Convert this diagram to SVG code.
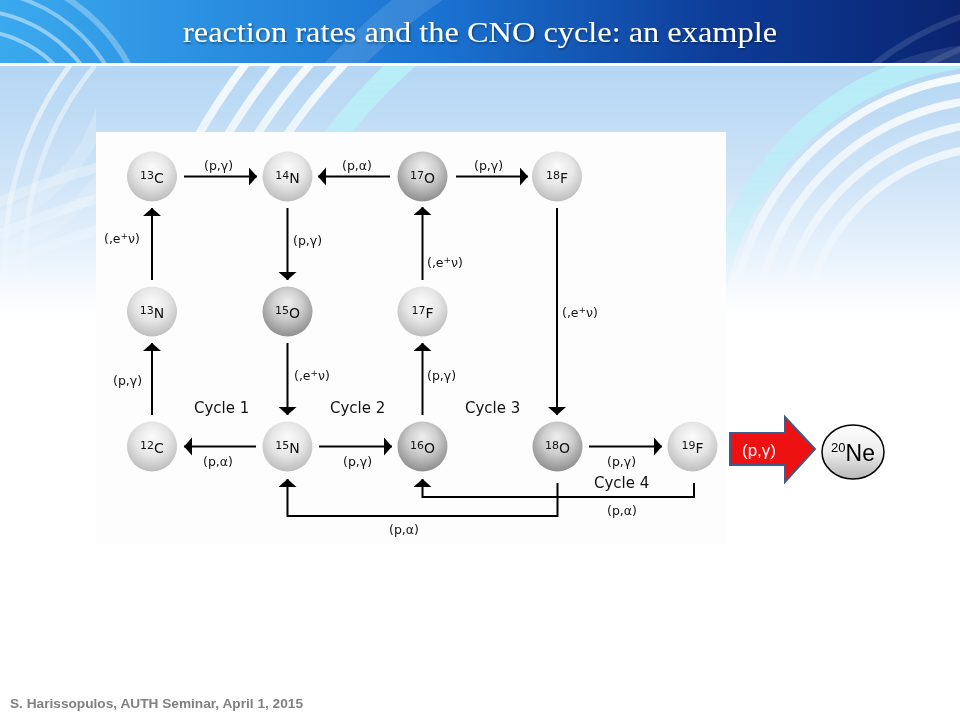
<svg xmlns="http://www.w3.org/2000/svg" width="960" height="720" viewBox="0 0 960 720">
<defs>
  <linearGradient id="hdr" x1="0" y1="0" x2="1" y2="0">
    <stop offset="0" stop-color="#3aa9ee"/>
    <stop offset="0.45" stop-color="#1b74d2"/>
    <stop offset="0.75" stop-color="#0d3c98"/>
    <stop offset="1" stop-color="#0a2470"/>
  </linearGradient>
  <linearGradient id="bodybg" gradientUnits="userSpaceOnUse" x1="0" y1="66" x2="0" y2="320">
    <stop offset="0" stop-color="#b4d6f3"/>
    <stop offset="0.45" stop-color="#cfe4f7"/>
    <stop offset="0.75" stop-color="#e9f3fc"/>
    <stop offset="0.9" stop-color="#f8fbfe"/>
    <stop offset="1" stop-color="#ffffff"/>
  </linearGradient>
  <linearGradient id="fadeV" gradientUnits="userSpaceOnUse" x1="0" y1="66" x2="0" y2="300">
    <stop offset="0" stop-color="#fff"/>
    <stop offset="0.6" stop-color="#fff" stop-opacity="0.6"/>
    <stop offset="1" stop-color="#fff" stop-opacity="0"/>
  </linearGradient>
  <mask id="fadeMask" maskUnits="userSpaceOnUse" x="0" y="0" width="960" height="720">
    <rect x="0" y="66" width="960" height="240" fill="url(#fadeV)"/>
  </mask>
  <clipPath id="hdrClip"><rect x="0" y="0" width="960" height="63"/></clipPath>
  <clipPath id="topStrip"><rect x="0" y="66" width="960" height="70"/></clipPath>
  <clipPath id="leftStrip"><rect x="0" y="66" width="96" height="300"/></clipPath>
  <radialGradient id="ballLight" cx="0.5" cy="0.4" r="0.6" fx="0.5" fy="0.3">
    <stop offset="0" stop-color="#fbfbfb"/>
    <stop offset="0.55" stop-color="#e6e6e6"/>
    <stop offset="1" stop-color="#bdbdbd"/>
  </radialGradient>
  <radialGradient id="ballDark" cx="0.5" cy="0.4" r="0.6" fx="0.5" fy="0.3">
    <stop offset="0" stop-color="#eeeeee"/>
    <stop offset="0.5" stop-color="#cdcdcd"/>
    <stop offset="1" stop-color="#8e8e8e"/>
  </radialGradient>
  <linearGradient id="neGrad" x1="0" y1="0" x2="0" y2="1">
    <stop offset="0" stop-color="#ffffff"/>
    <stop offset="0.5" stop-color="#ececec"/>
    <stop offset="1" stop-color="#b8b8b8"/>
  </linearGradient>
  <marker id="ah" markerUnits="userSpaceOnUse" markerWidth="10" markerHeight="20" refX="8" refY="9" orient="auto" viewBox="0 0 10 20">
    <path d="M0,0 L8,9 L0,18 Z" fill="#000"/>
  </marker>
  <filter id="tshadow" x="-5%" y="-20%" width="110%" height="150%">
    <feDropShadow dx="1" dy="1.5" stdDeviation="1" flood-color="#000" flood-opacity="0.45"/>
  </filter>
  <style>
    .lbl { font-family: "DejaVu Sans", "Liberation Sans", sans-serif; font-size: 12.5px; fill: #111; }
    .cyc { font-family: "DejaVu Sans", "Liberation Sans", sans-serif; font-size: 15px; fill: #111; }
    .iso { font-family: "DejaVu Sans", "Liberation Sans", sans-serif; fill: #111; text-anchor: middle; }
    .mass { font-size: 11px; }
    .elem { font-size: 14px; }
    .conn { fill: none; stroke: #000; stroke-width: 2; }
    .arrow { marker-end: url(#ah); }
    .light { fill: url(#ballLight); }
    .dark { fill: url(#ballDark); }
    .arc { fill: none; stroke: #ffffff; }
  </style>
</defs>

<!-- background -->
<rect x="0" y="0" width="960" height="720" fill="#ffffff"/>
<rect x="0" y="66" width="960" height="654" fill="url(#bodybg)"/>

<!-- body arcs -->
<g mask="url(#fadeMask)">
  <g clip-path="url(#topStrip)">
    <circle class="arc" cx="750" cy="450" r="635" stroke-width="8" opacity="0.85"/>
    <circle class="arc" cx="750" cy="450" r="610" stroke-width="8" opacity="0.85"/>
    <circle class="arc" cx="750" cy="450" r="585" stroke-width="8" opacity="0.85"/>
    <circle class="arc" cx="750" cy="450" r="560" stroke-width="8" opacity="0.85"/>
    <circle cx="750" cy="450" r="520" fill="none" stroke="#b8f4f8" stroke-width="22" opacity="0.8"/>
  </g>
  <circle cx="1000" cy="345" r="290" fill="none" stroke="#b6f2f8" stroke-width="22" opacity="0.8"/>
  <circle class="arc" cx="1000" cy="345" r="270" stroke-width="8" opacity="0.9"/>
  <circle class="arc" cx="1000" cy="345" r="246" stroke-width="8" opacity="0.9"/>
  <circle class="arc" cx="1000" cy="345" r="222" stroke-width="8" opacity="0.9"/>
  <circle class="arc" cx="1000" cy="345" r="198" stroke-width="8" opacity="0.9"/>
  <g clip-path="url(#leftStrip)">
    <circle class="arc" cx="330" cy="260" r="325" stroke-width="5" opacity="0.6"/>
    <circle class="arc" cx="330" cy="260" r="305" stroke-width="5" opacity="0.5"/>
    <circle class="arc" cx="-60" cy="60" r="170" stroke-width="14" opacity="0.25"/>
    <circle class="arc" cx="-60" cy="60" r="200" stroke-width="14" opacity="0.25"/>
    <circle class="arc" cx="300" cy="900" r="700" stroke-width="10" opacity="0.45"/>
    <circle class="arc" cx="300" cy="900" r="730" stroke-width="10" opacity="0.45"/>
    <circle class="arc" cx="300" cy="900" r="760" stroke-width="10" opacity="0.4"/>
  </g>
</g>

<!-- header -->
<rect x="0" y="0" width="960" height="63" fill="url(#hdr)"/>
<g clip-path="url(#hdrClip)">
  <circle class="arc" cx="-30" cy="150" r="120" stroke-width="4" opacity="0.45"/>
  <circle class="arc" cx="-30" cy="150" r="140" stroke-width="4" opacity="0.45"/>
  <circle class="arc" cx="-30" cy="150" r="160" stroke-width="4" opacity="0.4"/>
  <circle class="arc" cx="-30" cy="150" r="180" stroke-width="6" opacity="0.3"/>
  <circle class="arc" cx="750" cy="450" r="560" stroke-width="30" opacity="0.12"/>
  <circle class="arc" cx="1000" cy="345" r="290" stroke-width="24" opacity="0.1"/>
  <circle class="arc" cx="1060" cy="300" r="300" stroke-width="6" opacity="0.12"/>
  <circle class="arc" cx="1060" cy="300" r="270" stroke-width="6" opacity="0.12"/>
</g>
<rect x="0" y="63" width="960" height="3" fill="#ffffff"/>
<text x="480" y="42" text-anchor="middle" textLength="594" lengthAdjust="spacingAndGlyphs" font-family="'Liberation Serif', serif" font-size="30" fill="#ffffff" filter="url(#tshadow)">reaction rates and the CNO cycle: an example</text>

<!-- white panel -->
<rect x="96" y="132" width="630" height="412" fill="#fdfdfd"/>

<!-- connectors -->
<g id="connectors">
  <path class="conn arrow" d="M184,176.5 H257"/>
  <path class="conn arrow" d="M390,176.5 H318"/>
  <path class="conn arrow" d="M456,176.5 H528"/>
  <path class="conn arrow" d="M287.5,208 V280"/>
  <path class="conn arrow" d="M152,280 V208"/>
  <path class="conn arrow" d="M422.5,280 V207"/>
  <path class="conn arrow" d="M557,208 V415"/>
  <path class="conn arrow" d="M152,415 V343"/>
  <path class="conn arrow" d="M287.5,343 V415"/>
  <path class="conn arrow" d="M422.5,415 V343"/>
  <path class="conn arrow" d="M256,446.5 H184"/>
  <path class="conn arrow" d="M319,446.5 H392"/>
  <path class="conn arrow" d="M589,446.5 H662"/>
  <path class="conn arrow" d="M557.5,483 V516 H287.5 V479"/>
  <path class="conn arrow" d="M694,483 V497 H422.5 V479"/>

  <text class="lbl" x="204" y="170">(p,γ)</text>
  <text class="lbl" x="342" y="170">(p,α)</text>
  <text class="lbl" x="474" y="170">(p,γ)</text>
  <text class="lbl" x="104" y="243">(,e<tspan dy="-4" font-size="9">+</tspan><tspan dy="4">ν)</tspan></text>
  <text class="lbl" x="293" y="245">(p,γ)</text>
  <text class="lbl" x="427" y="267">(,e<tspan dy="-4" font-size="9">+</tspan><tspan dy="4">ν)</tspan></text>
  <text class="lbl" x="562" y="317">(,e<tspan dy="-4" font-size="9">+</tspan><tspan dy="4">ν)</tspan></text>
  <text class="lbl" x="113" y="385">(p,γ)</text>
  <text class="lbl" x="294" y="380">(,e<tspan dy="-4" font-size="9">+</tspan><tspan dy="4">ν)</tspan></text>
  <text class="lbl" x="427" y="380">(p,γ)</text>
  <text class="lbl" x="203" y="466">(p,α)</text>
  <text class="lbl" x="343" y="466">(p,γ)</text>
  <text class="lbl" x="607" y="466">(p,γ)</text>
  <text class="lbl" x="607" y="515">(p,α)</text>
  <text class="lbl" x="389" y="534">(p,α)</text>

  <text class="cyc" x="194" y="413">Cycle 1</text>
  <text class="cyc" x="330" y="413">Cycle 2</text>
  <text class="cyc" x="465" y="413">Cycle 3</text>
  <text class="cyc" x="594" y="488">Cycle 4</text>
</g>

<!-- nodes -->
<g id="node-13C"><circle class="light" cx="152" cy="176.5" r="25"/><text class="iso" x="152" y="183"><tspan class="mass" dy="-4">13</tspan><tspan class="elem" dy="4">C</tspan></text></g>
<g id="node-14N"><circle class="light" cx="287.5" cy="176.5" r="25"/><text class="iso" x="287.5" y="183"><tspan class="mass" dy="-4">14</tspan><tspan class="elem" dy="4">N</tspan></text></g>
<g id="node-17O"><circle class="dark" cx="422.5" cy="176.5" r="25"/><text class="iso" x="422.5" y="183"><tspan class="mass" dy="-4">17</tspan><tspan class="elem" dy="4">O</tspan></text></g>
<g id="node-18F"><circle class="light" cx="557" cy="176.5" r="25"/><text class="iso" x="557" y="183"><tspan class="mass" dy="-4">18</tspan><tspan class="elem" dy="4">F</tspan></text></g>
<g id="node-13N"><circle class="light" cx="152" cy="311.5" r="25"/><text class="iso" x="152" y="318"><tspan class="mass" dy="-4">13</tspan><tspan class="elem" dy="4">N</tspan></text></g>
<g id="node-15O"><circle class="dark" cx="287.5" cy="311.5" r="25"/><text class="iso" x="287.5" y="318"><tspan class="mass" dy="-4">15</tspan><tspan class="elem" dy="4">O</tspan></text></g>
<g id="node-17F"><circle class="light" cx="422.5" cy="311.5" r="25"/><text class="iso" x="422.5" y="318"><tspan class="mass" dy="-4">17</tspan><tspan class="elem" dy="4">F</tspan></text></g>
<g id="node-12C"><circle class="light" cx="152" cy="446.5" r="25"/><text class="iso" x="152" y="453"><tspan class="mass" dy="-4">12</tspan><tspan class="elem" dy="4">C</tspan></text></g>
<g id="node-15N"><circle class="light" cx="287.5" cy="446.5" r="25"/><text class="iso" x="287.5" y="453"><tspan class="mass" dy="-4">15</tspan><tspan class="elem" dy="4">N</tspan></text></g>
<g id="node-16O"><circle class="dark" cx="422.5" cy="446.5" r="25"/><text class="iso" x="422.5" y="453"><tspan class="mass" dy="-4">16</tspan><tspan class="elem" dy="4">O</tspan></text></g>
<g id="node-18O"><circle class="dark" cx="557.5" cy="446.5" r="25"/><text class="iso" x="557.5" y="453"><tspan class="mass" dy="-4">18</tspan><tspan class="elem" dy="4">O</tspan></text></g>
<g id="node-19F"><circle class="light" cx="692.5" cy="446.5" r="25"/><text class="iso" x="692.5" y="453"><tspan class="mass" dy="-4">19</tspan><tspan class="elem" dy="4">F</tspan></text></g>

<!-- red block arrow -->
<g id="node-pgamma-arrow">
  <polygon points="730,433 785,433 785,417 815,449 785,482 785,465 730,465" fill="#ee1111" stroke="#3b5b8a" stroke-width="2" stroke-linejoin="miter"/>
  <text x="759" y="456" text-anchor="middle" font-family="'Liberation Sans', sans-serif" font-size="17" fill="#ffffff">(p,γ)</text>
</g>

<!-- 20Ne -->
<g id="node-20Ne">
  <ellipse cx="853" cy="452" rx="31" ry="27" fill="url(#neGrad)" stroke="#000" stroke-width="1.5"/>
  <text x="853" y="461" text-anchor="middle" font-family="'Liberation Sans', sans-serif" fill="#000"><tspan font-size="13" dy="-9">20</tspan><tspan font-size="23" dy="9">Ne</tspan></text>
</g>

<!-- footer -->
<text x="10" y="708" textLength="293" lengthAdjust="spacingAndGlyphs" font-family="'Liberation Sans', sans-serif" font-weight="bold" font-size="13" fill="#808080">S. Harissopulos, AUTH Seminar, April 1, 2015</text>
</svg>
